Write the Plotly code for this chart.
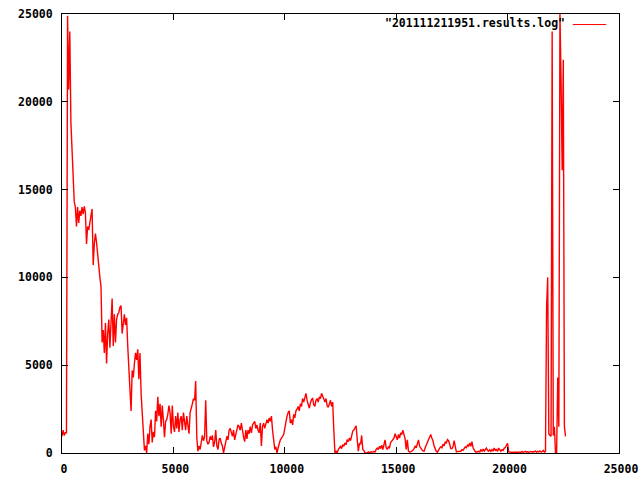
import numpy as np
import plotly.graph_objects as go

# sample spacing of the log (x = record index)
x_step = 50

# y values, 20 samples per 1000 x-units
row00 = [950, 1300, 1000, 1150, 1150, 24900, 20700, 24000, 18800, 17200, 16300, 14300, 14000, 12900, 14000, 13100, 13800, 13500, 14000, 13600]
row01 = [14050, 13700, 11900, 12900, 12700, 13300, 13500, 13900, 10700, 11900, 12500, 12000, 11200, 10500, 10000, 9500, 6300, 7000, 5700, 7400]
row02 = [5100, 6800, 7600, 6000, 7200, 8800, 6100, 7900, 6300, 7600, 7900, 8000, 8300, 8400, 6800, 7400, 7900, 7300, 7700, 6100]
row03 = [4700, 3200, 2400, 4700, 4300, 5100, 5700, 5300, 5900, 4200, 5700, 3400, 2000, 700, 150, 400, 0, 1100, 500, 1500]
row04 = [1900, 600, 1200, 900, 2400, 1800, 3200, 2100, 2800, 1500, 2700, 1900, 900, 1800, 1900, 2200, 2700, 2300, 1100, 2700]
row05 = [1500, 1200, 2100, 1400, 2300, 1200, 1900, 2100, 1300, 2300, 1800, 1300, 2100, 1500, 1100, 2300, 2500, 2800, 3100, 3000]
row06 = [4100, 900, 100, 400, 200, 800, 1000, 700, 900, 3000, 700, 500, 600, 950, 750, 1000, 350, 600, 1300, 400]
row07 = [200, 750, 850, 550, 400, 0, 400, 750, 950, 750, 1300, 1400, 1100, 950, 1300, 750, 1050, 1400, 1600, 1500]
row08 = [1300, 1700, 1100, 900, 650, 1300, 800, 1300, 1100, 1500, 1150, 1600, 1700, 1800, 1400, 1600, 1300, 1150, 1700, 400]
row09 = [1500, 1700, 1400, 1700, 1900, 1700, 2000, 1800, 2100, 1300, 800, 200, 350, 0, 300, 550, 750, 850, 950, 1050]
row10 = [1400, 1900, 2100, 2300, 2400, 1700, 1900, 1600, 2200, 2000, 2400, 2500, 2650, 2400, 2800, 2650, 3100, 2900, 3200, 3400]
row11 = [3000, 2700, 2550, 2850, 3050, 3100, 2750, 2650, 3000, 3100, 2900, 3200, 3100, 3400, 3200, 3000, 2900, 3100, 2700, 2600]
row12 = [2800, 3000, 2650, 2900, 1300, 0, 100, 0, 200, 280, 380, 250, 470, 380, 570, 470, 760, 650, 850, 700]
row13 = [1100, 1250, 1300, 1400, 1550, 800, 100, 550, 500, 1000, 200, 150, 0, 0, 0, 60, 0, 60, 50, 60]
row14 = [80, 60, 200, 280, 200, 380, 250, 450, 200, 600, 750, 300, 200, 350, 300, 600, 700, 800, 850, 1100]
row15 = [900, 750, 1050, 850, 1150, 1050, 1300, 1100, 800, 200, 750, 100, 50, 60, 90, 150, 250, 380, 300, 550]
row16 = [750, 380, 250, 190, 120, 100, 300, 450, 570, 750, 950, 1050, 850, 700, 400, 200, 100, 40, 180, 280]
row17 = [350, 300, 500, 400, 650, 550, 760, 700, 500, 250, 250, 350, 700, 300, 60, 80, 90, 60, 100, 190]
row18 = [150, 250, 350, 300, 450, 400, 570, 380, 650, 300, 150, 80, 50, 60, 100, 60, 180, 100, 230, 100]
row19 = [200, 280, 150, 100, 190, 90, 200, 100, 280, 150, 200, 90, 280, 190, 100, 190, 150, 280, 300, 450]
row20 = [550, 60, 40, 60, 30, 50, 40, 60, 30, 50, 40, 60, 30, 90, 40, 60, 100, 50, 70, 40]
row21 = [60, 90, 50, 80, 60, 120, 50, 90, 60, 120, 60, 80, 150, 60, 100, 8300, 10000, 1100, 1000, 950]
row22 = [24000, 1000, 1500, 0, 0, 4300, 1500, 25000, 21200, 16100, 22400, 1500, 950]

series_name = '"201111211951.results.log"'
tick_vals = [0, 5000, 10000, 15000, 20000, 25000]
tick_text = ["0", "5000", "10000", "15000", "20000", "25000"]

y_vals = (row00 + row01 + row02 + row03 + row04 + row05 + row06 + row07 + row08 + row09 + row10 +
          row11 + row12 + row13 + row14 + row15 + row16 + row17 + row18 + row19 + row20 + row21 + row22)
x_vals = np.arange(len(y_vals)) * x_step

font = dict(family="DejaVu Sans Mono", size=11.5, color="black", weight="bold")
line_color = "#ff0000"

fig = go.Figure()
fig.add_trace(go.Scatter(x=x_vals, y=y_vals, mode="lines", name=series_name,
                         line=dict(color=line_color, width=1.4), showlegend=False))

axis_common = dict(showgrid=False, zeroline=False, showline=True, linecolor="black", linewidth=1,
                   mirror="ticks", ticks="inside", ticklen=6, tickcolor="black", tickwidth=1,
                   tickfont=font, tickvals=tick_vals, ticktext=tick_text, automargin=False)

fig.update_xaxes(range=[0, 25000], ticklabelstandoff=5, ticklabelshift=2, **axis_common)
fig.update_yaxes(range=[0, 25000], ticklabelstandoff=6, **axis_common)

# gnuplot-style key: title text followed by a line sample
key_y = 0.979
fig.add_annotation(xref="paper", yref="paper", x=0.9066, y=key_y, xanchor="right", yanchor="middle",
                   text=series_name, showarrow=False, font=font)
fig.add_shape(type="line", xref="paper", yref="paper", x0=0.917, x1=0.977, y0=key_y - 0.003, y1=key_y - 0.003,
              line=dict(color=line_color, width=1))

fig.update_layout(width=640, height=480, margin=dict(l=62, r=21, t=14, b=27),
                  paper_bgcolor="white", plot_bgcolor="white", showlegend=False,
                  font=font)

fig.write_html("out.html", config={"displayModeBar": False},
               post_script="document.body.style.margin='0';")
